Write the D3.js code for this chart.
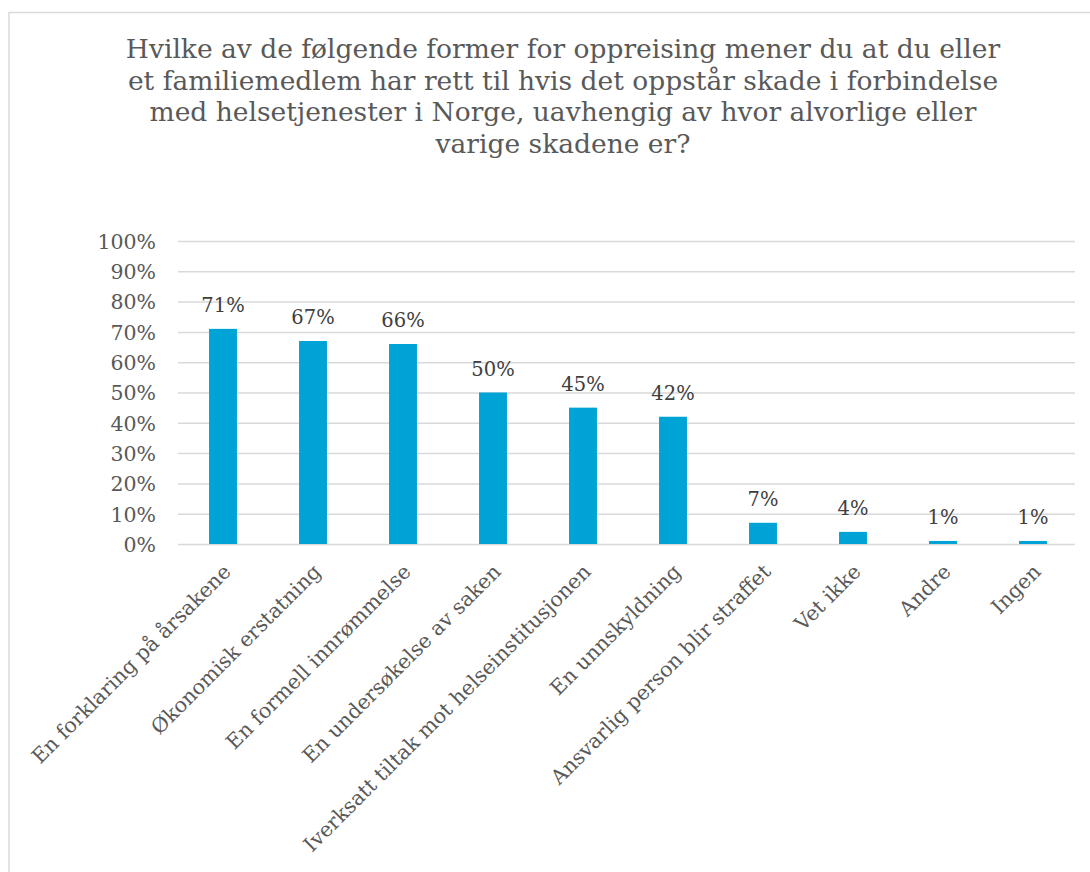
<!DOCTYPE html>
<html>
<head>
<meta charset="utf-8">
<script src="https://cdn.jsdelivr.net/npm/d3@7"></script>
<style>
  html, body { margin: 0; padding: 0; background: #fff; }
  svg { display: block; }
  text { font-family: "DejaVu Serif", "Liberation Serif", serif; }
</style>
</head>
<body>
<svg id="chart" width="1090" height="872"></svg>
<script>
// Survey answers: share of respondents choosing each form of redress
const categories = [
  "En forklaring på årsakene",
  "Økonomisk erstatning",
  "En formell innrømmelse",
  "En undersøkelse av saken",
  "Iverksatt tiltak mot helseinstitusjonen",
  "En unnskyldning",
  "Ansvarlig person blir straffet",
  "Vet ikke",
  "Andre",
  "Ingen"
];
const values = [71, 67, 66, 50, 45, 42, 7, 4, 1, 1];
const tickValues = [0, 10, 20, 30, 40, 50, 60, 70, 80, 90, 100];
const titleLines = [
  "Hvilke av de følgende former for oppreising mener du at du eller",
  "et familiemedlem har rett til hvis det oppstår skade i forbindelse",
  "med helsetjenester i Norge, uavhengig av hvor alvorlige eller",
  "varige skadene er?"
];

const svg = d3.select("#chart");
const W = 1090, H = 872;

// Chart area frame
svg.append("rect")
  .attr("x", 9).attr("y", 12.5)
  .attr("width", W + 20).attr("height", H + 20)
  .attr("fill", "#fff")
  .attr("stroke", "#d9d9d9")
  .attr("stroke-width", 1.5);

// Title
svg.append("g").selectAll("text")
  .data(titleLines)
  .join("text")
  .attr("x", 563)
  .attr("y", (d, i) => 58 + i * 31.7)
  .attr("text-anchor", "middle")
  .attr("fill", "#595959")
  .attr("font-size", 26.5)
  .text(d => d);

const plot = { left: 178, right: 1078, top: 241, bottom: 544 };

const x = d3.scaleBand()
  .domain(categories)
  .range([plot.left, plot.right])
  .paddingInner(0.69)
  .paddingOuter(0.345);

const y = d3.scaleLinear()
  .domain([0, 100])
  .range([plot.bottom, plot.top]);

// Gridlines + y tick labels
const yAxis = d3.axisLeft(y)
  .tickValues(tickValues)
  .tickSize(-(1075 - plot.left))
  .tickPadding(22)
  .tickFormat(d => d + "%");

const gy = svg.append("g")
  .attr("transform", `translate(${plot.left},0)`)
  .call(yAxis);
gy.select(".domain").remove();
gy.selectAll(".tick line")
  .attr("stroke", "#d9d9d9")
  .attr("stroke-width", 1.5);
gy.selectAll(".tick text")
  .attr("fill", "#595959")
  .attr("font-size", 20.5)
  .attr("font-family", "DejaVu Serif, serif")
  .attr("dy", "0.36em");

// Bars
svg.append("g").selectAll("rect")
  .data(values)
  .join("rect")
  .attr("x", (d, i) => x(categories[i]))
  .attr("y", d => y(d))
  .attr("width", x.bandwidth())
  .attr("height", d => y(0) - y(d))
  .attr("fill", "#00a3d6");

// Value labels
svg.append("g").selectAll("text")
  .data(values)
  .join("text")
  .attr("x", (d, i) => x(categories[i]) + x.bandwidth() / 2)
  .attr("y", d => y(d) - 17)
  .attr("text-anchor", "middle")
  .attr("fill", "#404040")
  .attr("font-size", 19.5)
  .text(d => d + "%");

// Category labels, rotated
const xAxis = d3.axisBottom(x).tickSize(0).tickPadding(0);
const gx = svg.append("g")
  .attr("transform", `translate(0,${plot.bottom})`)
  .call(xAxis);
gx.select(".domain").remove();
gx.selectAll(".tick text")
  .attr("fill", "#595959")
  .attr("font-size", 20.5)
  .attr("font-family", "DejaVu Serif, serif")
  .attr("text-anchor", "end")
  .attr("dy", null)
  .attr("y", 0)
  .attr("transform", "translate(9,29) rotate(-45)");
</script>
</body>
</html>
